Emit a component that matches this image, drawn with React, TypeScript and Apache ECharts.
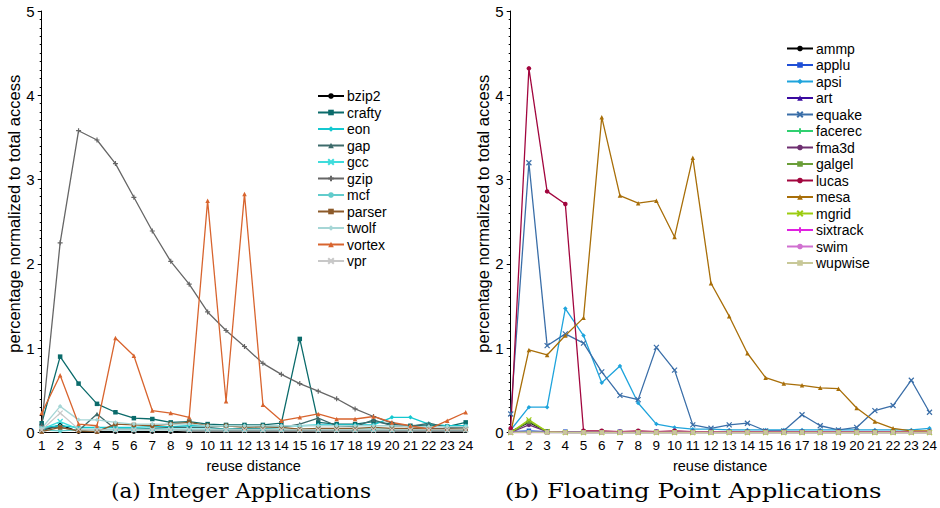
import React, { useEffect, useRef } from "react";
import * as echarts from "echarts";

const categories = Array.from({ length: 24 }, (_, i) => String(i + 1));

const intNames = ["bzip2", "crafty", "eon", "gap", "gcc", "gzip", "mcf", "parser", "twolf", "vortex", "vpr"];
const intColors = ["#000000", "#0b6b6b", "#14c8d0", "#3d6b6b", "#3fdcdc", "#666666", "#62cccc", "#8c5a2a", "#a6d6d6", "#d8642e", "#c8c8c8"];
const intSymbols = ["circle", "rect", "diamond", "triangle", "x", "plus", "circle", "rect", "diamond", "triangle", "x"];

const bzip2 = [0.02, 0.09, 0.01, 0.01, 0.01, 0.01, 0.01, 0.01, 0.02, 0.02, 0.02, 0.02, 0.02, 0.02, 0.02, 0.02, 0.02, 0.02, 0.02, 0.02, 0.02, 0.02, 0.02, 0.02];
const crafty = [0.11, 0.9, 0.58, 0.34, 0.24, 0.17, 0.16, 0.12, 0.13, 0.1, 0.09, 0.09, 0.09, 0.11, 1.11, 0.12, 0.1, 0.1, 0.13, 0.1, 0.08, 0.09, 0.07, 0.12];
const eon = [0.06, 0.08, 0.06, 0.06, 0.06, 0.06, 0.07, 0.07, 0.08, 0.08, 0.08, 0.08, 0.08, 0.08, 0.08, 0.09, 0.09, 0.09, 0.09, 0.18, 0.18, 0.1, 0.08, 0.08];
const gap = [0.05, 0.06, 0.02, 0.22, 0.04, 0.04, 0.05, 0.06, 0.06, 0.06, 0.04, 0.05, 0.05, 0.06, 0.1, 0.17, 0.08, 0.07, 0.15, 0.08, 0.07, 0.11, 0.06, 0.06];
const gcc = [0.04, 0.13, 0.04, 0.04, 0.04, 0.04, 0.04, 0.04, 0.04, 0.04, 0.04, 0.04, 0.04, 0.04, 0.04, 0.04, 0.04, 0.04, 0.04, 0.04, 0.04, 0.04, 0.04, 0.04];
const gzip = [0.08, 2.25, 3.58, 3.47, 3.19, 2.79, 2.39, 2.03, 1.76, 1.43, 1.21, 1.02, 0.82, 0.69, 0.58, 0.49, 0.4, 0.28, 0.19, 0.11, 0.07, 0.05, 0.05, 0.06];
const mcf = [0.03, 0.02, 0.03, 0.03, 0.03, 0.03, 0.03, 0.03, 0.03, 0.03, 0.03, 0.03, 0.03, 0.03, 0.03, 0.03, 0.03, 0.03, 0.03, 0.03, 0.03, 0.03, 0.03, 0.03];
const parser = [0.01, 0.06, 0.02, 0.01, 0.1, 0.09, 0.08, 0.1, 0.12, 0.08, 0.08, 0.06, 0.07, 0.06, 0.04, 0.05, 0.05, 0.05, 0.06, 0.05, 0.05, 0.04, 0.04, 0.04];
const twolf = [0.05, 0.31, 0.15, 0.15, 0.12, 0.1, 0.1, 0.1, 0.1, 0.08, 0.08, 0.08, 0.08, 0.08, 0.08, 0.08, 0.08, 0.08, 0.08, 0.08, 0.07, 0.07, 0.07, 0.07];
const vortex = [0.23, 0.68, 0.1, 0.08, 1.12, 0.91, 0.26, 0.23, 0.18, 2.75, 0.37, 2.83, 0.33, 0.14, 0.18, 0.22, 0.16, 0.16, 0.19, 0.12, 0.08, 0.04, 0.14, 0.24];
const vpr = [0.03, 0.23, 0.04, 0.03, 0.03, 0.03, 0.03, 0.03, 0.03, 0.03, 0.03, 0.03, 0.03, 0.03, 0.03, 0.03, 0.03, 0.03, 0.03, 0.03, 0.03, 0.03, 0.03, 0.03];
const intData = [bzip2, crafty, eon, gap, gcc, gzip, mcf, parser, twolf, vortex, vpr];

const fpNames = ["ammp", "applu", "apsi", "art", "equake", "facerec", "fma3d", "galgel", "lucas", "mesa", "mgrid", "sixtrack", "swim", "wupwise"];
const fpColors = ["#000000", "#1f4fd6", "#1fa4dc", "#3a0aa0", "#3a6ea8", "#2fd070", "#6e2f70", "#6a9e38", "#a2063e", "#a86e08", "#9ccc10", "#e020e0", "#d070d0", "#c8c898"];
const fpSymbols = ["circle", "rect", "diamond", "triangle", "x", "plus", "circle", "rect", "circle", "triangle", "x", "plus", "circle", "rect"];

const ammp = [0.01, 0.12, 0.01, 0, 0, 0, 0, 0, 0, 0, 0, 0, 0, 0, 0, 0, 0, 0, 0, 0, 0, 0, 0, 0];
const applu = [0.01, 0.02, 0.01, 0.01, 0.01, 0.01, 0.01, 0.01, 0.01, 0.01, 0.01, 0.01, 0.01, 0.01, 0.01, 0.01, 0.01, 0.01, 0.01, 0.01, 0.01, 0.01, 0.01, 0.01];
const apsi = [0.03, 0.3, 0.3, 1.47, 1.15, 0.59, 0.79, 0.35, 0.1, 0.06, 0.04, 0.04, 0.03, 0.03, 0.03, 0.03, 0.03, 0.03, 0.03, 0.03, 0.03, 0.03, 0.03, 0.05];
const art = [0, 0.01, 0, 0, 0, 0, 0, 0, 0, 0, 0, 0, 0, 0, 0, 0, 0, 0, 0, 0, 0, 0, 0, 0];
const equake = [0.22, 3.2, 1.03, 1.17, 1.06, 0.72, 0.44, 0.39, 1.01, 0.74, 0.09, 0.05, 0.09, 0.11, 0.02, 0.02, 0.21, 0.08, 0.03, 0.06, 0.26, 0.32, 0.62, 0.24];
const facerec = [0, 0.01, 0, 0, 0, 0, 0, 0, 0, 0, 0, 0, 0, 0, 0, 0, 0, 0, 0, 0, 0, 0, 0, 0];
const fma3d = [0, 0.09, 0.01, 0, 0, 0, 0, 0, 0, 0, 0, 0, 0, 0, 0, 0, 0, 0, 0, 0, 0, 0, 0, 0];
const galgel = [0, 0.13, 0.01, 0, 0, 0, 0, 0, 0, 0, 0, 0, 0, 0, 0, 0, 0, 0, 0, 0, 0, 0, 0, 0];
const lucas = [0.05, 4.32, 2.86, 2.71, 0.02, 0.02, 0.01, 0.02, 0.01, 0.02, 0.01, 0.01, 0.01, 0.01, 0.01, 0.01, 0.01, 0.01, 0.01, 0.01, 0.01, 0.01, 0.01, 0.01];
const mesa = [0, 0.98, 0.92, 1.15, 1.36, 3.74, 2.81, 2.72, 2.75, 2.32, 3.26, 1.77, 1.38, 0.94, 0.65, 0.58, 0.56, 0.53, 0.52, 0.29, 0.13, 0.05, 0.02, 0.02];
const mgrid = [0, 0.15, 0.01, 0, 0, 0, 0, 0, 0, 0, 0, 0, 0, 0, 0, 0, 0, 0, 0, 0, 0, 0, 0, 0];
const sixtrack = [0, 0, 0, 0, 0, 0, 0, 0, 0, 0, 0, 0, 0, 0, 0, 0, 0, 0, 0, 0, 0, 0, 0, 0];
const swim = [0, 0, 0, 0, 0, 0, 0, 0, 0, 0, 0, 0, 0, 0, 0, 0, 0, 0, 0, 0, 0, 0, 0, 0];
const wupwise = [0, 0, 0, 0, 0, 0, 0, 0, 0, 0, 0, 0, 0, 0, 0, 0, 0, 0, 0, 0, 0, 0, 0, 0];
const fpData = [ammp, applu, apsi, art, equake, facerec, fma3d, galgel, lucas, mesa, mgrid, sixtrack, swim, wupwise];

const yTicks = [0, 5, 1];
const xAxisTitle = "reuse distance";
const yAxisTitle = "percentage normalized to total access";
const captions = ["(a) Integer Applications", "(b) Floating Point Applications"];

const sans = "'Liberation Sans', Arial, sans-serif";
const serif = "'DejaVu Serif', 'Liberation Serif', serif";

function makeX(idx: number) {
  return {
    type: "category",
    gridIndex: idx,
    data: categories,
    boundaryGap: false,
    axisLine: { lineStyle: { color: "#000", width: 1 } },
    axisTick: { show: false },
    axisLabel: { interval: 0, color: "#000", fontFamily: sans, fontSize: 13.5, margin: 6 },
    name: xAxisTitle,
    nameLocation: "middle",
    nameGap: 26,
    nameTextStyle: { color: "#000", fontFamily: sans, fontSize: 14.5 },
  };
}

function makeY(idx: number) {
  return {
    type: "value",
    gridIndex: idx,
    min: yTicks[0],
    max: yTicks[1],
    interval: yTicks[2],
    axisLine: { show: true, lineStyle: { color: "#000", width: 1 } },
    axisTick: { show: true, length: 4, lineStyle: { color: "#000" } },
    minorTick: { show: true, splitNumber: 10, length: 2, lineStyle: { color: "#000" } },
    splitLine: { show: false },
    axisLabel: { color: "#000", fontFamily: sans, fontSize: 15, margin: 7 },
    name: yAxisTitle,
    nameLocation: "middle",
    nameRotate: 90,
    nameGap: 16,
    nameTextStyle: { color: "#000", fontFamily: sans, fontSize: 16.5, padding: [0, 0, 0, 16] },
  };
}

function makeSeries(names: string[], data: number[][], colors: string[], symbols: string[], idx: number) {
  return names.map((n, i) => {
    const cross = symbols[i] === "x" || symbols[i] === "plus";
    return {
      name: n,
      type: "line",
      xAxisIndex: idx,
      yAxisIndex: idx,
      data: data[i],
      color: colors[i],
      symbol:
        symbols[i] === "x"
          ? "path://M0,0L10,10M10,0L0,10"
          : symbols[i] === "plus"
          ? "path://M5,0L5,10M0,5L10,5"
          : symbols[i],
      symbolSize: cross ? 5 : 4.5,
      showAllSymbol: true,
      lineStyle: { width: 1.3, color: colors[i] },
      itemStyle: cross
        ? { color: "none", borderColor: colors[i], borderWidth: 1.2 }
        : { color: colors[i] },
    };
  });
}

export default function App() {
  const ref = useRef<HTMLDivElement>(null);
  useEffect(() => {
    if (!ref.current) return;
    const chart = echarts.init(ref.current, undefined, { renderer: "svg" });
    const legendBase = {
      orient: "vertical",
      itemWidth: 26,
      itemHeight: 7,
      itemGap: 2.5,
      textStyle: { color: "#000", fontFamily: sans, fontSize: 14, lineHeight: 14, padding: [0, 0, 0, -2] },
      padding: 0,
    };
    chart.setOption({
      animation: false,
      backgroundColor: "#fff",
      grid: [
        { left: 41.7, top: 11, width: 424, height: 421.5 },
        { left: 510.7, top: 11, width: 424.3, height: 421.5 },
      ],
      xAxis: [makeX(0), makeX(1)],
      yAxis: [makeY(0), makeY(1)],
      legend: [
        { ...legendBase, left: 317, top: 89, data: intNames },
        { ...legendBase, left: 786, top: 41.5, data: fpNames },
      ],
      series: [
        ...makeSeries(intNames, intData, intColors, intSymbols, 0),
        ...makeSeries(fpNames, fpData, fpColors, fpSymbols, 1),
      ],
      graphic: [
        {
          type: "text",
          x: 241,
          y: 491,
          scaleX: 1.03,
          style: { text: captions[0], font: `21px ${serif}`, fill: "#000", textAlign: "center", textVerticalAlign: "middle" },
        },
        {
          type: "text",
          x: 693,
          y: 491,
          scaleX: 1.16,
          style: { text: captions[1], font: `21px ${serif}`, fill: "#000", textAlign: "center", textVerticalAlign: "middle" },
        },
      ],
    });
    return () => chart.dispose();
  }, []);
  return <div ref={ref} style={{ position: "fixed", left: 0, top: 0, width: 940, height: 508 }} />;
}
